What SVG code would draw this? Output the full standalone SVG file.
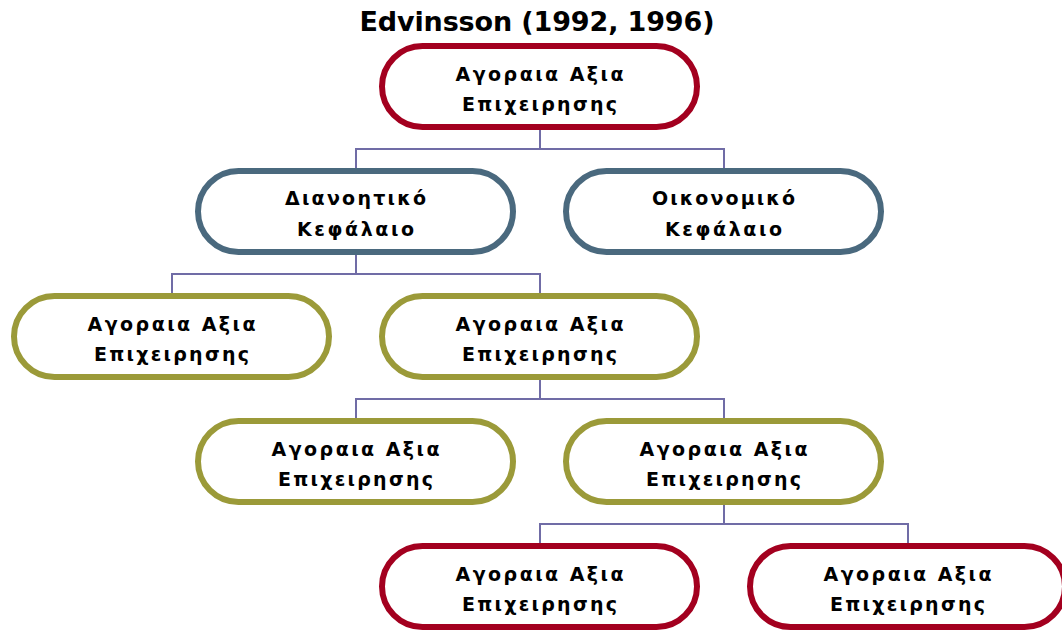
<svg xmlns="http://www.w3.org/2000/svg" width="1062" height="633" viewBox="0 0 1062 633">
  <style>
    .node { fill: #ffffff; stroke-width: 6; }
    .red { stroke: #a3001f; }
    .blue { stroke: #4a697e; }
    .olive { stroke: #9b9a39; }
    .lbl { font-family: "DejaVu Sans", "Noto Sans", sans-serif; font-weight: bold; font-size: 19px; fill: #000000; text-anchor: middle; }
    .title { font-family: "DejaVu Sans", "Noto Sans", sans-serif; font-weight: bold; font-size: 27px; fill: #000000; text-anchor: middle; }
    .link { fill: none; stroke: #706ca6; stroke-width: 2; }
  </style>

  <rect width="1062" height="633" fill="#ffffff"/>

  <text class="title" x="537" y="31" textLength="355" lengthAdjust="spacing">Edvinsson (1992, 1996)</text>

  <!-- tree connectors -->
  <g id="connectors">
    <path class="link" d="M540 130 V149 M356 168 V149 H724 V168"/>
    <path class="link" d="M356 255 V274 M172 293 V274 H540 V293"/>
    <path class="link" d="M540 380 V399 M356 418 V399 H724 V418"/>
    <path class="link" d="M724 505 V524 M540 543 V524 H908 V543"/>
  </g>

  <!-- row 1 -->
  <g id="n-root">
    <rect class="node red" x="382" y="46" width="315" height="81" rx="40.5"/>
    <text class="lbl" x="539.5" y="81" textLength="168" lengthAdjust="spacing">Αγοραια Αξια</text>
    <text class="lbl" x="539.5" y="111" textLength="155" lengthAdjust="spacing">Επιχειρησης</text>
  </g>

  <!-- row 2 -->
  <g id="n-intellectual">
    <rect class="node blue" x="198" y="171" width="315" height="81" rx="40.5"/>
    <text class="lbl" x="355.5" y="205" textLength="141" lengthAdjust="spacing">Διανοητικό</text>
    <text class="lbl" x="355.5" y="236" textLength="117" lengthAdjust="spacing">Κεφάλαιο</text>
  </g>
  <g id="n-financial">
    <rect class="node blue" x="566" y="171" width="315" height="81" rx="40.5"/>
    <text class="lbl" x="723.5" y="205" textLength="143" lengthAdjust="spacing">Οικονομικό</text>
    <text class="lbl" x="723.5" y="236" textLength="117" lengthAdjust="spacing">Κεφάλαιο</text>
  </g>

  <!-- row 3 -->
  <g id="n-r3a">
    <rect class="node olive" x="14" y="296" width="315" height="81" rx="40.5"/>
    <text class="lbl" x="171.5" y="331" textLength="168" lengthAdjust="spacing">Αγοραια Αξια</text>
    <text class="lbl" x="171.5" y="361" textLength="155" lengthAdjust="spacing">Επιχειρησης</text>
  </g>
  <g id="n-r3b">
    <rect class="node olive" x="382" y="296" width="315" height="81" rx="40.5"/>
    <text class="lbl" x="539.5" y="331" textLength="168" lengthAdjust="spacing">Αγοραια Αξια</text>
    <text class="lbl" x="539.5" y="361" textLength="155" lengthAdjust="spacing">Επιχειρησης</text>
  </g>

  <!-- row 4 -->
  <g id="n-r4a">
    <rect class="node olive" x="198" y="421" width="315" height="81" rx="40.5"/>
    <text class="lbl" x="355.5" y="456" textLength="168" lengthAdjust="spacing">Αγοραια Αξια</text>
    <text class="lbl" x="355.5" y="486" textLength="155" lengthAdjust="spacing">Επιχειρησης</text>
  </g>
  <g id="n-r4b">
    <rect class="node olive" x="566" y="421" width="315" height="81" rx="40.5"/>
    <text class="lbl" x="723.5" y="456" textLength="168" lengthAdjust="spacing">Αγοραια Αξια</text>
    <text class="lbl" x="723.5" y="486" textLength="155" lengthAdjust="spacing">Επιχειρησης</text>
  </g>

  <!-- row 5 -->
  <g id="n-r5a">
    <rect class="node red" x="382" y="546" width="315" height="81" rx="40.5"/>
    <text class="lbl" x="539.5" y="581" textLength="168" lengthAdjust="spacing">Αγοραια Αξια</text>
    <text class="lbl" x="539.5" y="611" textLength="155" lengthAdjust="spacing">Επιχειρησης</text>
  </g>
  <g id="n-r5b">
    <rect class="node red" x="750" y="546" width="315" height="81" rx="40.5"/>
    <text class="lbl" x="907.5" y="581" textLength="168" lengthAdjust="spacing">Αγοραια Αξια</text>
    <text class="lbl" x="907.5" y="611" textLength="155" lengthAdjust="spacing">Επιχειρησης</text>
  </g>
</svg>
